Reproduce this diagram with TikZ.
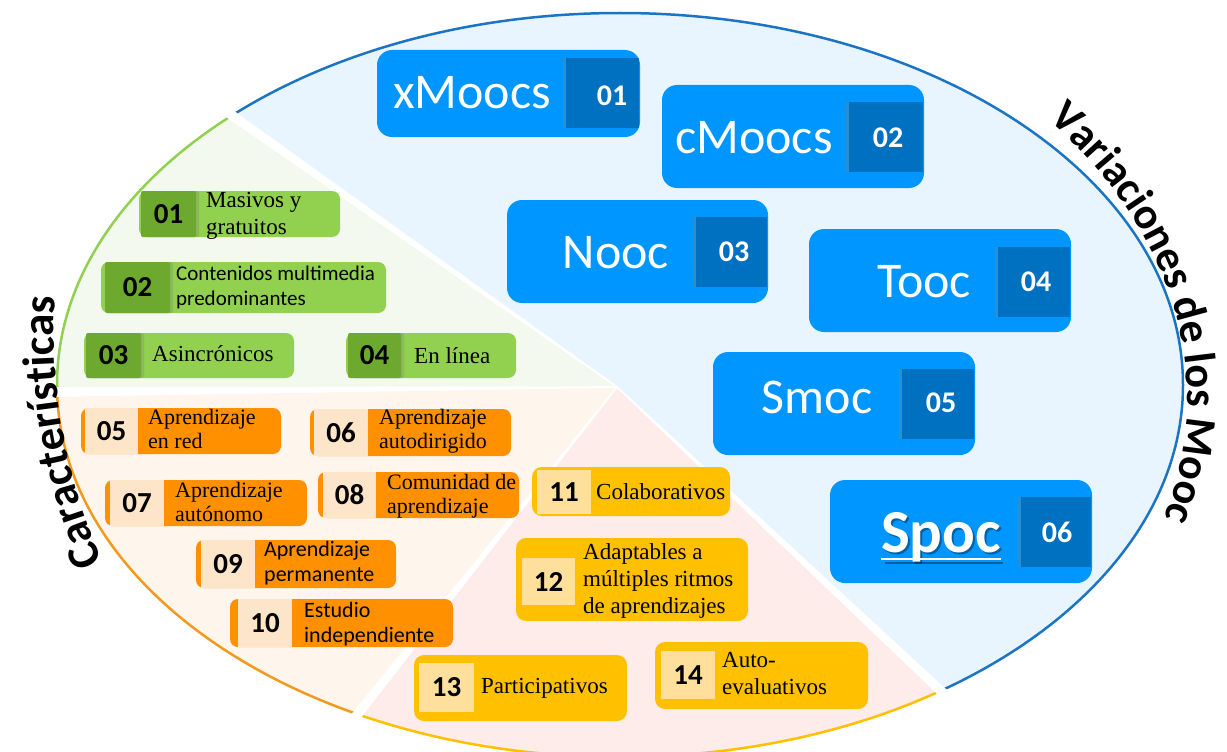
\documentclass[tikz,border=0pt]{standalone}
\usepackage{fontspec}
\setmainfont{Liberation Serif}
\newfontfamily\carl{Carlito}
\usetikzlibrary{decorations.text,calc,shadows}

\definecolor{mblue}{HTML}{0096FF}
\definecolor{mdark}{HTML}{0070C0}
\definecolor{blueline}{HTML}{1B75C4}
\definecolor{bluefill}{HTML}{E9F5FE}
\definecolor{greenfill}{HTML}{F3F9EE}
\definecolor{orangefill}{HTML}{FEF5EC}
\definecolor{pinkfill}{HTML}{FDECEA}
\definecolor{gline}{HTML}{92D050}
\definecolor{oline}{HTML}{F39A1E}
\definecolor{yline}{HTML}{FFC000}
\definecolor{gbox}{HTML}{92D050}
\definecolor{gsq}{HTML}{6CA92E}
\definecolor{obox}{HTML}{FF9100}
\definecolor{osq}{HTML}{FDE5C9}
\definecolor{ybox}{HTML}{FFC000}
\definecolor{ysq}{HTML}{FEE09C}

% rectangle node given by its corners: name, style, x1, y1, x2, y2, text
\newcommand\panel[7]{%
  \pgfmathsetmacro\pw{#5-#3}%
  \pgfmathsetmacro\ph{#6-#4}%
  \node[#2, minimum width=\pw pt, minimum height=\ph pt] (#1) at ({(#3+#5)/2},{(#4+#6)/2}) {#7};}
\newcommand\twol[2]{\vtop{\hbox{#1}\hbox{#2}}}
\newcommand\threel[3]{\vtop{\hbox{#1}\hbox{#2}\hbox{#3}}}
\newcommand\ovalpath{(620,385) ellipse [x radius=563, y radius=372]}

\begin{document}
\begin{tikzpicture}[x=1pt,y=-1pt,
  bluebox/.style={fill=mblue, rounded corners=15pt, inner sep=0},
  darksq/.style={fill=mdark, inner sep=0,
    drop shadow={shadow xshift=-3pt, shadow yshift=0pt, opacity=0.35}},
  bluelabel/.style={text=white, anchor=base, inner sep=0,
    font=\carl\fontsize{50}{60}\selectfont},
  bluenum/.style={text=white, inner sep=0,
    font=\carl\bfseries\fontsize{30}{34}\selectfont},
  numfont/.style={inner sep=0, font=\carl\bfseries\fontsize{29}{34}\selectfont},
  greenbox/.style={fill=gbox, rounded corners=8pt, inner sep=0},
  greensq/.style={fill=gsq, rounded corners=2pt, numfont,
    drop shadow={shadow xshift=3pt, shadow yshift=0pt, opacity=0.3}},
  orangebox/.style={fill=obox, rounded corners=8pt, inner sep=0},
  orangesq/.style={fill=osq, numfont},
  yellowbox/.style={fill=ybox, rounded corners=10pt, inner sep=0},
  yellowsq/.style={fill=ysq, numfont},
  sertext/.style={anchor=base west, inner sep=0, font=\fontsize{23}{27}\selectfont},
  sertextB/.style={anchor=base west, inner sep=0, font=\fontsize{22}{24}\selectfont},
  caltext/.style={anchor=base west, inner sep=0, font=\carl\fontsize{22}{25}\selectfont},
  rim/.style={line width=2.5pt},
  gap/.style={fill=white}
]
\useasboundingbox (0,0) rectangle (1227,752);

% ---- sectors of the oval ----
\coordinate (C) at (617,387);
\coordinate (P1) at (233,116);
\coordinate (P2) at (58,392);
\coordinate (P3) at (357,715);
\coordinate (P4) at (940,690);

\begin{scope}
  \clip (C) -- (-151,-153) -- (1400,-200) -- (1400,1000) -- (1263,993) -- cycle;
  \fill[bluefill] \ovalpath;
  \draw[rim, blueline] \ovalpath;
\end{scope}
\begin{scope}
  \clip (C) -- (-151,-153) -- (-200,-153) -- (-200,394) -- cycle;
  \fill[greenfill] \ovalpath;
  \draw[rim, gline] \ovalpath;
\end{scope}
\begin{scope}
  \clip (C) -- (-200,394) -- (-200,1100) -- (97,1043) -- cycle;
  \fill[orangefill] \ovalpath;
  \draw[rim, oline] \ovalpath;
\end{scope}
\begin{scope}
  \clip (C) -- (97,1043) -- (1263,993) -- cycle;
  \fill[pinkfill] \ovalpath;
  \draw[rim, yline] \ovalpath;
\end{scope}

% white wedges between the sectors
\foreach \p in {P1,P2,P3,P4}{
  \coordinate (F\p) at ($(C)!1.05!(\p)$);
  \fill[gap] ($(C)!0.8pt!90:(\p)$) -- ($(F\p)!5pt!-90:(C)$)
     -- ($(F\p)!5pt!90:(C)$) -- ($(C)!0.8pt!-90:(\p)$) -- cycle;
}

% ---- titles along the rim ----
\path[decorate, decoration={text along path, text align=left,
  text={|\carl\bfseries\fontsize{45}{50}\selectfont|Características}}]
  plot[samples=160, domain=156:192] ({618+564*cos(\x)},{332+564*sin(\x)});
\path[decorate, decoration={text along path, text align=left,
  text={|\carl\bfseries\fontsize{44}{50}\selectfont|Variaciones de los Mooc}}]
  plot[samples=240, domain=-41:30] ({620+567*cos(\x)},{398+424*sin(\x)});

% ---- variations ----
\panel{v1}{bluebox}{377}{50}{640}{137}{}
\panel{v1s}{darksq}{566}{58}{639}{128}{}
\node[bluelabel] (v1t) at (472,108) {xMoocs};
\node[bluenum] (v1n) at (612,96) {01};

\panel{v2}{bluebox}{662}{85}{924}{188}{}
\panel{v2s}{darksq}{849}{102}{923}{172}{}
\node[bluelabel] (v2t) at (754,153) {cMoocs};
\node[bluenum] (v2n) at (888,138) {02};

\panel{v3}{bluebox}{507}{200}{768}{303}{}
\panel{v3s}{darksq}{696}{217}{767}{287}{}
\node[bluelabel] (v3t) at (616,268) {Nooc};
\node[bluenum] (v3n) at (734,252) {03};

\panel{v4}{bluebox}{809}{229}{1071}{332}{}
\panel{v4s}{darksq}{998}{247}{1070}{317}{}
\node[bluelabel] (v4t) at (924,297) {Tooc};
\node[bluenum] (v4n) at (1036,282) {04};

\panel{v5}{bluebox}{713}{352}{975}{455}{}
\panel{v5s}{darksq}{902}{369}{974}{439}{}
\node[bluelabel] (v5t) at (817,413) {Smoc};
\node[bluenum] (v5n) at (941,403) {05};

\panel{v6}{bluebox}{830}{480}{1092}{583}{}
\panel{v6s}{darksq}{1021}{497}{1091}{567}{}
\node[bluelabel, text=black, opacity=0.35, font=\carl\bfseries\fontsize{61}{70}\selectfont]
  (v6sh) at (943,554) {Spoc};
\draw[black, opacity=0.35, line width=2.5pt]
  ([xshift=2pt,yshift=-9pt]v6sh.base west) -- ([xshift=0pt,yshift=-9pt]v6sh.base east);
\node[bluelabel, font=\carl\bfseries\fontsize{61}{70}\selectfont] (v6t) at (941,552) {Spoc};
\draw[white, line width=2.5pt]
  ([yshift=-7pt]v6t.base west) -- ([yshift=-7pt]v6t.base east);
\node[bluenum] (v6n) at (1057,532) {06};

% ---- characteristics: green ----
\panel{g1}{greenbox}{139}{191}{340}{237}{}
\panel{g1s}{greensq}{141}{191}{196}{237}{01}
\node[sertext] (g1t) at (206,207) {\twol{Masivos y}{gratuitos}};

\panel{g2}{greenbox}{101}{262}{386}{313}{}
\panel{g2s}{greensq}{105}{262}{170}{313}{02}
\node[caltext, font=\carl\fontsize{21}{25}\selectfont] (g2t) at (176,280)
  {\twol{Contenidos multimedia}{predominantes}};

\panel{g3}{greenbox}{84}{333}{294}{378}{}
\panel{g3s}{greensq}{86}{333}{141}{378}{03}
\node[sertext] (g3t) at (152,361) {Asincrónicos};

\panel{g4}{greenbox}{346}{333}{516}{378}{}
\panel{g4s}{greensq}{348}{333}{401}{378}{04}
\node[sertext] (g4t) at (414,363) {En línea};

% ---- characteristics: orange ----
\panel{o5}{orangebox}{81}{408}{281}{454}{}
\panel{o5s}{orangesq}{85}{408}{138}{454}{05}
\node[sertextB] (o5t) at (148,424) {\twol{Aprendizaje}{en red}};

\panel{o6}{orangebox}{310}{409}{511}{456}{}
\panel{o6s}{orangesq}{314}{409}{368}{456}{06}
\node[sertextB] (o6t) at (379,424) {\twol{Aprendizaje}{autodirigido}};

\panel{o7}{orangebox}{105}{480}{307}{526}{}
\panel{o7s}{orangesq}{110}{480}{164}{526}{07}
\node[sertextB] (o7t) at (175,497) {\twol{Aprendizaje}{autónomo}};

\panel{o8}{orangebox}{318}{472}{519}{518}{}
\panel{o8s}{orangesq}{323}{472}{376}{518}{08}
\node[sertextB] (o8t) at (387,489) {\twol{Comunidad de}{aprendizaje}};

\panel{o9}{orangebox}{196}{540}{396}{588}{}
\panel{o9s}{orangesq}{201}{540}{255}{588}{09}
\node[caltext] (o9t) at (264,556) {\twol{Aprendizaje}{permanente}};

\panel{o10}{orangebox}{230}{599}{453}{647}{}
\panel{o10s}{orangesq}{238}{599}{292}{647}{10}
\node[caltext] (o10t) at (304,617) {\twol{Estudio}{independiente}};

% ---- characteristics: yellow ----
\panel{y11}{yellowbox}{532}{467}{730}{516}{}
\panel{y11s}{yellowsq}{537}{470}{591}{514}{11}
\node[sertext] (y11t) at (596,499) {Colaborativos};

\panel{y12}{yellowbox}{516}{538}{748}{621}{}
\panel{y12s}{yellowsq}{522}{558}{575}{605}{12}
\node[sertext] (y12t) at (583,559)
  {\threel{Adaptables a}{múltiples ritmos}{de aprendizajes}};

\panel{y13}{yellowbox}{414}{655}{627}{721}{}
\panel{y13s}{yellowsq}{419}{663}{474}{712}{13}
\node[sertext] (y13t) at (481,693) {Participativos};

\panel{y14}{yellowbox}{655}{642}{868}{709}{}
\panel{y14s}{yellowsq}{661}{651}{715}{699}{14}
\node[sertext] (y14t) at (722,667) {\twol{Auto-}{evaluativos}};

\end{tikzpicture}
\end{document}
